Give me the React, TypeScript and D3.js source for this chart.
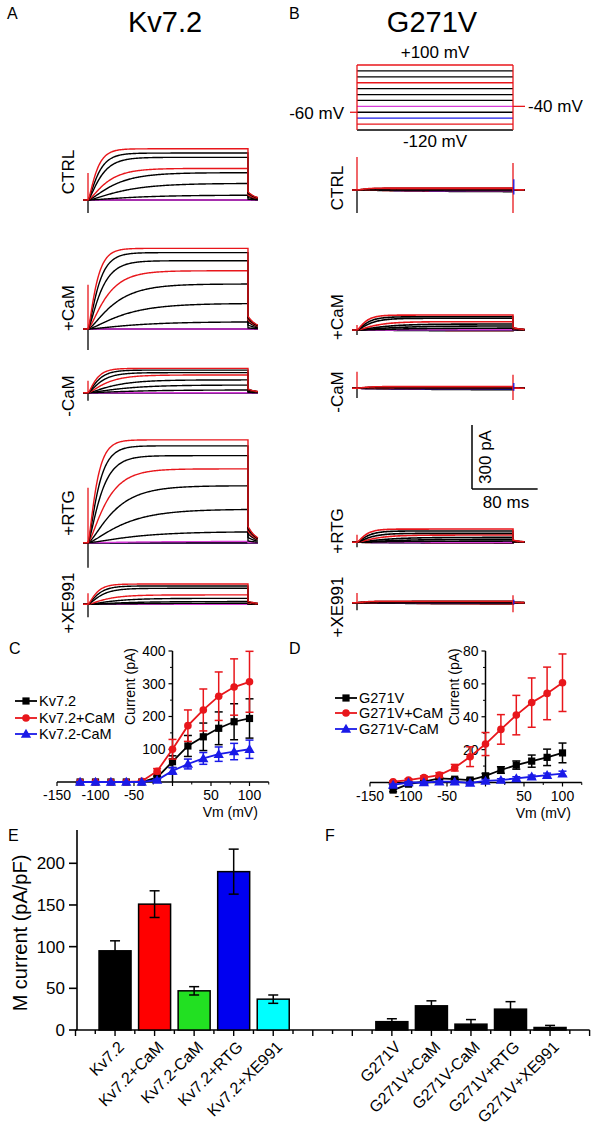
import * as d3 from "d3";

const FONT = "'Liberation Sans', Arial, sans-serif";
const RED = "#e8161b";
const BLUE = "#1a1ae8";
const MAGENTA = "#d83cd8";

// voltage protocol, one entry per sweep
const sweepVoltages = [100, 80, 60, 40, 20, 0, -20, -40, -60, -80, -100, -120];
const sweepColors = [RED, "#000", "#000", RED, "#000", "#000", "#000", MAGENTA, "#000", BLUE, RED, "#000"];
const sweepTau = [9, 11, 14, 20, 28, 38, 50, 60, 60, 60, 60, 60]; // ms

const rowNames = ["CTRL", "+CaM", "-CaM", "+RTG", "+XE991"];

// steady-state current of each sweep (pA), Kv7.2
const kvCtrl = [240, 220, 200, 148, 128, 78, 23, 0, 0, 0, 0, 0];
const kvCaM = [378, 358, 320, 273, 211, 120, 34, 0, 0, 0, 0, 0];
const kvNoCaM = [114, 106, 94, 83, 60, 36, 13, 0, 0, 0, 0, 0];
const kvRtg = [482, 454, 408, 346, 267, 157, 52, 6, 0, 0, 0, 0];
const kvXe991 = [95, 86, 75, 44, 28, 13, 5, 0, 0, 0, 0, 0];
const kvSpikeUp = [127, 207, 56, 258, 52];
const kvSpikeDown = [61, 99, 38, 117, 61];

// steady-state current of each sweep (pA), G271V
const gCtrl = [9, 8, 6, 5, 3, 2, 1, 0, -2, -4, -6, -8];
const gCaM = [70, 62, 55, 39, 28, 19, 9, 2, 0, -1, -2, -4];
const gNoCaM = [8, 7, 5, 4, 2, 1, 0, 0, -2, -4, -5, -7];
const gRtg = [62, 53, 42, 34, 23, 14, 6, 1, 0, -1, -2, -4];
const gXe991 = [7, 6, 4, 3, 2, 1, 0, 0, -2, -3, -5, -6];
const gSpikeUp = [155, 23, 77, 35, 45];
const gSpikeDown = [108, 23, 45, 23, 35];
const gEndUp = [127, 0, 63, 0, 35];
const gEndDown = [108, 0, 55, 0, 45];

// I-V curves
const ivVoltages = [-120, -100, -80, -60, -40, -20, 0, 20, 40, 60, 80, 100];
const kvIV = [0, 0, 0, 0, 0, 14, 62, 110, 138, 164, 184, 194];
const kvIVErr = [1, 1, 1, 1, 1, 4, 18, 32, 42, 50, 55, 60];
const kvCaMIV = [0, 0, 0, 0, 2, 33, 100, 172, 220, 262, 290, 306];
const kvCaMIVErr = [1, 1, 1, 1, 2, 8, 30, 48, 64, 74, 86, 93];
const kvNoCaMIV = [0, 0, 0, 0, 0, 6, 34, 55, 72, 85, 93, 100];
const kvNoCaMIVErr = [1, 1, 1, 1, 1, 3, 10, 15, 18, 22, 25, 28];
const gIV = [-4.6, -1, 0.5, 2.5, 2, 1.5, 4, 7.6, 10.6, 13, 15.3, 18];
const gIVErr = [1, 1, 0.5, 0.5, 0.8, 1, 1.5, 2, 2.5, 3.7, 5, 6];
const gCaMIV = [0.5, 1.5, 3, 4.5, 9, 15.7, 23.4, 32.3, 41, 48.6, 54.2, 60.7];
const gCaMIVErr = [0.5, 0.8, 1, 1.5, 2, 6, 7, 9, 12, 15, 16, 17.5];
const gNoCaMIV = [-1.5, 0, 0, 0.5, 0.5, -0.3, 1, 1.5, 2.5, 3.5, 4.5, 5.4];
const gNoCaMIVErr = [0.5, 0.5, 0.5, 0.5, 0.5, 0.5, 0.8, 0.8, 1, 1, 1.2, 1.5];
const ivTicksX = [-150, -100, -50, 50, 100];
const kvTicksY = [100, 200, 300, 400];
const gTicksY = [20, 40, 60, 80];

// M current densities
const eLabels = ["Kv7.2", "Kv7.2+CaM", "Kv7.2-CaM", "Kv7.2+RTG", "Kv7.2+XE991"];
const eValues = [95, 151, 47, 190, 37];
const eErr = [12, 16, 5, 27, 5];
const eColors = ["#000000", "#ff0000", "#22e022", "#0000f0", "#00ffff"];
const fLabels = ["G271V", "G271V+CaM", "G271V-CaM", "G271V+RTG", "G271V+XE991"];
const fValues = [10, 29, 7, 25, 3];
const fErr = [3.5, 6, 5.5, 9, 2.5];
const barTicksY = [0, 50, 100, 150, 200];

// layout
const kvBase = [200, 329, 392.7, 542.7, 604.3];
const kvLabelY = [172, 308, 396, 513, 603];
const gBase = [190, 330, 388.3, 542.3, 602.7];
const gLabelY = [188, 317, 392, 531, 607];
const PX_PER_PA = 64 / 300;

function sweepPath(amp: number, tau: number, tEnd: number, tailEnd: number, x: any, y: any) {
  const pts: [number, number][] = [[-6, 0], [0, 0]];
  for (let t = 1; t <= tEnd; t += 1) pts.push([t, amp * Math.pow(1 - Math.exp(-t / tau), 1.5)]);
  const tail = amp > 0 ? amp * 0.16 : 0;
  for (let s = 0; s <= tailEnd - tEnd; s += 1) pts.push([tEnd + s, tail * Math.exp(-s / 10)]);
  return d3.line<[number, number]>().x((d) => x(d[0])).y((d) => y(d[1]))(pts) || "";
}

function TraceRow(props: {
  amps: number[]; base: number; x: any; tEnd: number; tailEnd: number; width: number;
  up: number; down: number; endUp?: number; endDown?: number;
}) {
  const { amps, base, x, tEnd, tailEnd, width, up, down, endUp = 0, endDown = 0 } = props;
  const y = d3.scaleLinear().domain([0, 300]).range([base, base - 300 * PX_PER_PA]);
  const order = d3.range(amps.length).reverse();
  return (
    <g fill="none" strokeWidth={width}>
      <line x1={x(0)} x2={x(0)} y1={y(0)} y2={y(-down)} stroke="#000" strokeWidth={1.3} />
      {order.map((i) => (
        <path key={i} d={sweepPath(amps[i], sweepTau[i], tEnd, tailEnd, x, y)} stroke={sweepColors[i]} />
      ))}
      <line x1={x(0)} x2={x(0)} y1={y(0)} y2={y(up)} stroke={RED} strokeWidth={1.3} />
      {endUp > 0 && (
        <g strokeWidth={1.3}>
          <line x1={x(tEnd)} x2={x(tEnd)} y1={y(-endDown)} y2={y(endUp)} stroke={RED} />
          <line x1={x(tEnd) + 0.8} x2={x(tEnd) + 0.8} y1={y(endUp * 0.4)} y2={y(-endDown * 0.2)} stroke={BLUE} />
        </g>
      )}
    </g>
  );
}

function IVChart(props: {
  x: any; y: any; ticksY: number[]; series: { v: number[]; e: number[]; color: string; shape: string }[];
  legend: string[]; legendX: number; legendY: number[]; titleX: number;
}) {
  const { x, y, ticksY, series, legend, legendX, legendY, titleX } = props;
  const [y0] = y.range();
  const yTop = y.range()[1];
  const x0 = x(0);
  const marker = (shape: string, color: string, cx: number, cy: number, k: number) => {
    if (shape === "square") return <rect key={k} x={cx - 3.6} y={cy - 3.6} width={7.2} height={7.2} fill={color} />;
    if (shape === "circle") return <circle key={k} cx={cx} cy={cy} r={3.8} fill={color} />;
    return (
      <path key={k} transform={`translate(${cx},${cy + 0.8})`} d={d3.symbol(d3.symbolTriangle, 46)() || ""} fill={color} />
    );
  };
  const line = d3.line<number>().x((_, i) => x(ivVoltages[i])).y((d) => y(d));
  return (
    <g fontFamily={FONT} fontSize={14}>
      <line x1={x(-150)} x2={x(125)} y1={y0} y2={y0} stroke="#000" strokeWidth={1.5} />
      <line x1={x0} x2={x0} y1={y0} y2={yTop} stroke="#000" strokeWidth={1.5} />
      {d3.range(-150, 126, 50).map((t) => (
        <line key={t} x1={x(t)} x2={x(t)} y1={y0} y2={y0 + 4} stroke="#000" strokeWidth={1.2} />
      ))}
      {d3.range(-125, 126, 50).map((t) => (
        <line key={t} x1={x(t)} x2={x(t)} y1={y0} y2={y0 + 2.5} stroke="#000" strokeWidth={1} />
      ))}
      {ivTicksX.map((t) => (
        <text key={t} x={x(t)} y={y0 + 18} textAnchor="middle">{t}</text>
      ))}
      {ticksY.map((t) => (
        <g key={t}>
          <line x1={x0 - 4} x2={x0} y1={y(t)} y2={y(t)} stroke="#000" strokeWidth={1.2} />
          <line x1={x0 - 2.5} x2={x0} y1={y(t - ticksY[0] / 2)} y2={y(t - ticksY[0] / 2)} stroke="#000" strokeWidth={1} />
          <text x={x0 - 7} y={y(t)} dy="0.35em" textAnchor="end">{t}</text>
        </g>
      ))}
      <text transform={`translate(${titleX},${(y0 + yTop) / 2 - 30}) rotate(-90)`} textAnchor="middle">Current (pA)</text>
      <text x={x(75)} y={y0 + 35} textAnchor="middle">Vm (mV)</text>
      {series.map((s, si) => (
        <g key={si}>
          {s.v.map((v, i) => (
            <g key={i} stroke={s.color} strokeWidth={1.5}>
              <line x1={x(ivVoltages[i])} x2={x(ivVoltages[i])} y1={y(v - s.e[i])} y2={y(v + s.e[i])} />
              <line x1={x(ivVoltages[i]) - 4} x2={x(ivVoltages[i]) + 4} y1={y(v + s.e[i])} y2={y(v + s.e[i])} />
              <line x1={x(ivVoltages[i]) - 4} x2={x(ivVoltages[i]) + 4} y1={y(v - s.e[i])} y2={y(v - s.e[i])} />
            </g>
          ))}
          <path d={line(s.v) || ""} fill="none" stroke={s.color} strokeWidth={1.8} />
          {s.v.map((v, i) => marker(s.shape, s.color, x(ivVoltages[i]), y(v), i))}
        </g>
      ))}
      {series.map((s, si) => (
        <g key={si}>
          <line x1={legendX} x2={legendX + 22} y1={legendY[si]} y2={legendY[si]} stroke={s.color} strokeWidth={1.8} />
          {marker(s.shape, s.color, legendX + 11, legendY[si], 99)}
          <text x={legendX + 24} y={legendY[si]} dy="0.36em" fontSize={14.5}>{legend[si]}</text>
        </g>
      ))}
    </g>
  );
}

export default function App() {
  const xKv = d3.scaleLinear().domain([0, 195]).range([88, 248]);
  const xG = d3.scaleLinear().domain([0, 190]).range([357, 513]);
  const kvRows = [kvCtrl, kvCaM, kvNoCaM, kvRtg, kvXe991];
  const gRows = [gCtrl, gCaM, gNoCaM, gRtg, gXe991];
  const proto = d3.scaleLinear().domain([-120, 100]).range([130, 65]);

  const xC = d3.scaleLinear().domain([-150, 125]).range([57, 268.75]);
  const yC = d3.scaleLinear().domain([0, 400]).range([782, 651]);
  const xD = d3.scaleLinear().domain([-150, 125]).range([370, 581.75]);
  const yD = d3.scaleLinear().domain([0, 80]).range([782.5, 651]);

  const xBar = d3.scaleLinear().domain([-1, 12]).range([75.5, 589.6]);
  const yBar = d3.scaleLinear().domain([0, 200]).range([1030, 863.3]);
  const barW = 32;
  const bars = [
    ...eLabels.map((l, i) => ({ label: l, v: eValues[i], e: eErr[i], c: eColors[i], pos: i })),
    ...fLabels.map((l, i) => ({ label: l, v: fValues[i], e: fErr[i], c: "#000000", pos: i + 7 })),
  ];
  const scaleBarY = d3.scaleLinear().domain([0, 300]).range([489, 489 - 300 * PX_PER_PA]);

  return (
    <svg width={600} height={1135} style={{ position: "absolute", left: 0, top: 0, background: "#fff" }} fontFamily={FONT}>
      {/* panel letters and titles */}
      <g fontSize={16}>
        <text x={7} y={19}>A</text>
        <text x={289} y={19}>B</text>
        <text x={9} y={654}>C</text>
        <text x={289} y={654}>D</text>
        <text x={8} y={841}>E</text>
        <text x={325} y={841}>F</text>
      </g>
      <text x={165} y={32} fontSize={29} textAnchor="middle">Kv7.2</text>
      <text x={432} y={32} fontSize={29} textAnchor="middle">G271V</text>

      {/* voltage protocol */}
      <g strokeWidth={1.3}>
        {sweepVoltages.map((v, i) => (
          <line key={v} x1={357} x2={513} y1={proto(v)} y2={proto(v)} stroke={sweepColors[i]} />
        ))}
        <line x1={357} x2={357} y1={proto(100)} y2={proto(-120)} stroke={RED} />
        <line x1={513} x2={513} y1={proto(100)} y2={proto(-120)} stroke={RED} />
        <line x1={350} x2={357} y1={proto(-60)} y2={proto(-60)} stroke={RED} />
        <line x1={513} x2={525} y1={proto(-40)} y2={proto(-40)} stroke={RED} />
      </g>
      <g fontSize={17}>
        <text x={435} y={58} textAnchor="middle">+100 mV</text>
        <text x={435} y={147} textAnchor="middle">-120 mV</text>
        <text x={344} y={119} textAnchor="end">-60 mV</text>
        <text x={528} y={112}>-40 mV</text>
      </g>

      {/* current traces */}
      {kvRows.map((amps, r) => (
        <TraceRow key={r} amps={amps} base={kvBase[r]} x={xKv} tEnd={195} tailEnd={207} width={1.4} up={kvSpikeUp[r]} down={kvSpikeDown[r]} />
      ))}
      {gRows.map((amps, r) => (
        <TraceRow key={r} amps={amps} base={gBase[r]} x={xG} tEnd={190} tailEnd={204} width={1.6} up={gSpikeUp[r]} down={gSpikeDown[r]} endUp={gEndUp[r]} endDown={gEndDown[r]} />
      ))}
      <g fontSize={17}>
        {rowNames.map((n, r) => (
          <g key={n}>
            <text transform={`translate(74,${kvLabelY[r]}) rotate(-90)`} textAnchor="middle">{n}</text>
            <text transform={`translate(343,${gLabelY[r]}) rotate(-90)`} textAnchor="middle">{n}</text>
          </g>
        ))}
      </g>

      {/* scale bar */}
      <g stroke="#000" strokeWidth={1.5}>
        <line x1={472} x2={472} y1={scaleBarY(0)} y2={scaleBarY(300)} />
        <line x1={472} x2={xKv(80) - xKv(0) + 472} y1={scaleBarY(0)} y2={scaleBarY(0)} />
      </g>
      <text transform="translate(491,457) rotate(-90)" textAnchor="middle" fontSize={17}>300 pA</text>
      <text x={506} y={508} textAnchor="middle" fontSize={17}>80 ms</text>

      {/* I-V curves */}
      <IVChart
        x={xC}
        y={yC}
        ticksY={kvTicksY}
        titleX={135}
        legend={["Kv7.2", "Kv7.2+CaM", "Kv7.2-CaM"]}
        legendX={15}
        legendY={[701, 718, 734]}
        series={[
          { v: kvIV, e: kvIVErr, color: "#000", shape: "square" },
          { v: kvCaMIV, e: kvCaMIVErr, color: RED, shape: "circle" },
          { v: kvNoCaMIV, e: kvNoCaMIVErr, color: BLUE, shape: "triangle" },
        ]}
      />
      <IVChart
        x={xD}
        y={yD}
        ticksY={gTicksY}
        titleX={459}
        legend={["G271V", "G271V+CaM", "G271V-CaM"]}
        legendX={335}
        legendY={[698, 713, 729]}
        series={[
          { v: gIV, e: gIVErr, color: "#000", shape: "square" },
          { v: gCaMIV, e: gCaMIVErr, color: RED, shape: "circle" },
          { v: gNoCaMIV, e: gNoCaMIVErr, color: BLUE, shape: "triangle" },
        ]}
      />

      {/* bar charts E and F */}
      <g>
        <line x1={77} x2={77} y1={830} y2={yBar(0)} stroke="#000" strokeWidth={1.6} />
        <line x1={xBar(-1)} x2={xBar(12)} y1={yBar(0)} y2={yBar(0)} stroke="#000" strokeWidth={1.6} />
        {barTicksY.map((t) => (
          <g key={t}>
            <line x1={69} x2={77} y1={yBar(t)} y2={yBar(t)} stroke="#000" strokeWidth={1.6} />
            <text x={65} y={yBar(t)} dy="0.36em" textAnchor="end" fontSize={17}>{t}</text>
          </g>
        ))}
        {d3.range(-1, 12.01, 0.5).map((p) => (
          <line key={p} x1={xBar(p)} x2={xBar(p)} y1={yBar(0)} y2={yBar(0) + (Number.isInteger(p) ? 6 : 4)} stroke="#000" strokeWidth={1.4} />
        ))}
        <text transform="translate(27,933) rotate(-90)" textAnchor="middle" fontSize={20}>M current (pA/pF)</text>
        {bars.map((b) => (
          <g key={b.label}>
            <rect x={xBar(b.pos) - barW / 2} y={yBar(b.v)} width={barW} height={yBar(0) - yBar(b.v)} fill={b.c} stroke="#000" strokeWidth={1.5} />
            <g stroke="#000" strokeWidth={1.5}>
              <line x1={xBar(b.pos)} x2={xBar(b.pos)} y1={yBar(b.v - b.e)} y2={yBar(b.v + b.e)} />
              <line x1={xBar(b.pos) - 5} x2={xBar(b.pos) + 5} y1={yBar(b.v + b.e)} y2={yBar(b.v + b.e)} />
              <line x1={xBar(b.pos) - 5} x2={xBar(b.pos) + 5} y1={yBar(b.v - b.e)} y2={yBar(b.v - b.e)} />
            </g>
            <text transform={`translate(${xBar(b.pos) + 10},1048) rotate(-45)`} textAnchor="end" fontSize={16}>{b.label}</text>
          </g>
        ))}
      </g>
    </svg>
  );
}
